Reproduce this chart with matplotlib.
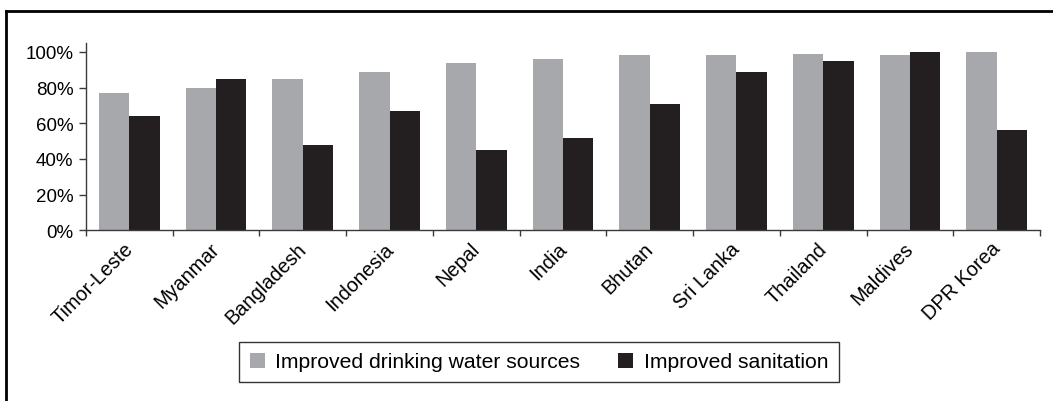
import matplotlib
matplotlib.use("Agg")
import matplotlib.pyplot as plt
import matplotlib.transforms as mtransforms
import numpy as np
from matplotlib.lines import Line2D

plt.rcParams["font.family"] = ["Liberation Sans", "DejaVu Sans"]

countries = ["Timor-Leste", "Myanmar", "Bangladesh", "Indonesia", "Nepal", "India",
             "Bhutan", "Sri Lanka", "Thailand", "Maldives", "DPR Korea"]
water = [77, 80, 85, 89, 94, 96, 98, 98, 99, 98, 100]
sanitation = [64, 85, 48, 67, 45, 52, 71, 89, 95, 100, 56]
y_ticks = [0, 20, 40, 60, 80, 100]

GREY = "#a7a8ab"
BLACK = "#231f20"
AXIS = "#3a3a3a"

fig = plt.figure(figsize=(10.53, 4.02), dpi=100)
ax = fig.add_axes([86 / 1053, 1 - 231.3 / 402, (1040 - 86) / 1053, (231.3 - 44) / 402])

x = np.arange(len(countries))
w = 0.35
ax.bar(x - w / 2, water, width=w, color=GREY, label="Improved drinking water sources")
ax.bar(x + w / 2, sanitation, width=w, color=BLACK, label="Improved sanitation")

ax.set_xlim(-0.5, len(countries) - 0.5)
ax.set_ylim(0, 105)
ax.set_yticks(y_ticks)
ax.set_yticklabels([f"{v}%" for v in y_ticks], fontsize=13.5)

# category labels centred under groups, tick marks on group boundaries
ax.set_xticks(np.arange(-0.5, len(countries)), minor=False)
ax.set_xticklabels([])
ax.set_xticks(x, minor=True)
ax.set_xticklabels(countries, minor=True, rotation=45, ha="right", va="top",
                   rotation_mode="anchor", fontsize=14.3)
ax.tick_params(axis="x", which="minor", length=0, pad=6)
ax.tick_params(axis="x", which="major", length=4, width=1, color=AXIS, direction="out")
ax.tick_params(axis="y", length=5, width=1, color=AXIS, direction="out", pad=4)
shift = mtransforms.ScaledTranslation(-6 / 100, 0, fig.dpi_scale_trans)
for lbl in ax.get_xticklabels(minor=True):
    lbl.set_transform(lbl.get_transform() + shift)

for side in ("top", "right"):
    ax.spines[side].set_visible(False)
for side in ("left", "bottom"):
    ax.spines[side].set_color(AXIS)
    ax.spines[side].set_linewidth(1)

leg = fig.legend(loc="center", bbox_to_anchor=(539 / 1053, 1 - 363 / 402), ncol=2,
                 fontsize=15.2, frameon=True, fancybox=False, edgecolor="black",
                 handlelength=0.7, handleheight=0.7, handletextpad=0.5,
                 columnspacing=1.8, borderpad=0.5, borderaxespad=0)
leg.get_frame().set_linewidth(1)

# surrounding frame (top and left edges)
fig.add_artist(Line2D([6 / 1053, 1.0], [1 - 12 / 402, 1 - 12 / 402], color="black",
                      linewidth=2, transform=fig.transFigure))
fig.add_artist(Line2D([6 / 1053, 6 / 1053], [0.0, 1 - 12 / 402], color="black",
                      linewidth=2, transform=fig.transFigure))

fig.savefig("out.png", dpi=100, facecolor="white")
